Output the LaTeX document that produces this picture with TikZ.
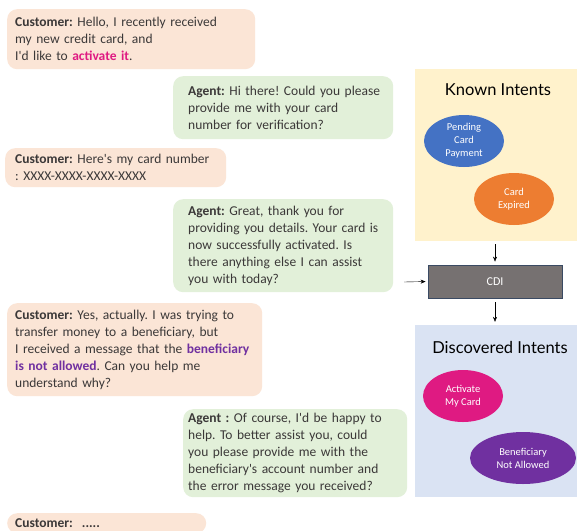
\documentclass[tikz,border=0pt]{standalone}
\usepackage{fontspec}
\setmainfont{Carlito}[Ligatures=TeXOff]
\newfontfamily\titlefont{Lato}
\usetikzlibrary{shapes.geometric,arrows.meta}
\frenchspacing

\definecolor{custfill}{HTML}{FBE5D6}
\definecolor{agentfill}{HTML}{E2F0D9}
\definecolor{knownfill}{HTML}{FFF2CC}
\definecolor{discfill}{HTML}{DAE3F3}
\definecolor{textgray}{HTML}{3B3838}
\definecolor{pendblue}{HTML}{4472C4}
\definecolor{expiredorange}{HTML}{ED7D31}
\definecolor{activpink}{HTML}{DF1A82}
\definecolor{benpurple}{HTML}{7030A0}
\definecolor{cdigray}{HTML}{767171}
\definecolor{cdiborder}{HTML}{3A4A63}

\tikzset{
  bubble/.style={rounded corners=10pt,anchor=north west,align=left,inner xsep=4pt,
    inner ysep=2pt,text=textgray,font=\frenchspacing\fontsize{13.5}{17}\selectfont},
  custbubble/.style={bubble,fill=custfill},
  agentbubble/.style={bubble,fill=agentfill},
  intent/.style={ellipse,minimum width=80pt,minimum height=52pt,inner sep=0pt,
    text=white,align=center,font=\fontsize{10.5}{13}\selectfont},
  panel/.style={rectangle,minimum width=162pt,minimum height=172pt,inner sep=0pt},
  paneltitle/.style={font=\titlefont\fontsize{16.5}{19}\selectfont,text=black},
  flow/.style={-{Stealth[length=5pt,width=4pt]},black}
}

\begin{document}
\begin{tikzpicture}[x=1pt,y=-1pt]
  \clip (0,0) rectangle (577,530);
  \fill[white] (0,0) rectangle (577,530);

  % Chat between customer and agent
  \node[custbubble,text width=240pt,minimum height=60pt,execute at begin node={\leftskip=4pt}] (c1) at (7,9)
    {\textbf{Customer:} Hello, I recently received\\ my new credit card, and\\ I'd like to \textcolor{activpink}{\textbf{activate it}}.};
  \node[agentbubble,text width=212pt,minimum height=63pt,execute at begin node={\leftskip=11pt}] (a1) at (173,76)
    {\textbf{Agent:} Hi there! Could you please\\ provide me with your card\\ number for verification?};
  \node[custbubble,text width=213pt,minimum height=39pt,execute at begin node={\leftskip=6pt}] (c2) at (5,148)
    {\textbf{Customer:} Here's my card number\\ : XXXX-XXXX-XXXX-XXXX};
  \node[agentbubble,text width=212pt,minimum height=93pt,execute at begin node={\leftskip=11pt}] (a2) at (173,199)
    {\textbf{Agent:} Great, thank you for\\ providing you details. Your card is\\ now successfully activated. Is\\ there anything else I can assist\\ you with today?};
  \node[custbubble,text width=247pt,minimum height=93pt,execute at begin node={\leftskip=4pt}] (c3) at (7,303)
    {\textbf{Customer:} Yes, actually. I was trying to\\ transfer money to a beneficiary, but\\ I received a message that the \textcolor{benpurple}{\textbf{beneficiary}}\\ \textcolor{benpurple}{\textbf{is not allowed}}. Can you help me\\ understand why?};
  \node[agentbubble,text width=216pt,minimum height=88pt,execute at begin node={\leftskip=1pt}] (a3) at (183,409)
    {\textbf{Agent :} Of course, I'd be happy to\\ help. To better assist you, could\\ you please provide me with the\\ beneficiary's account number and\\ the error message you received?};
  \node[custbubble,text width=191pt,minimum height=20pt,execute at begin node={\leftskip=4pt}] (c4) at (7,513)
    {\textbf{Customer:\ \ .....}};

  % Known intents
  \node[panel,fill=knownfill] (known) at (496,155) {};
  \node[paneltitle] (knowntitle) at (498,90) {Known Intents};
  \node[intent,fill=pendblue] (pending) at (464,141) {Pending\\Card\\Payment};
  \node[intent,fill=expiredorange] (expired) at (514,199) {Card\\Expired};

  % CDI
  \node[rectangle,fill=cdigray,draw=cdiborder,line width=0.8pt,minimum width=134pt,minimum height=33pt,
    text=white,font=\fontsize{12}{14}\selectfont] (cdi) at (495,281.5) {CDI};
  \coordinate (chatin) at (404,282);

  % Discovered intents
  \node[panel,fill=discfill] (disc) at (496,411) {};
  \node[paneltitle] (disctitle) at (500,347) {Discovered Intents};
  \node[intent,fill=activpink] (activate) at (463,396) {Activate\\My Card};
  \node[intent,fill=benpurple,minimum width=106pt] (benef) at (523,458) {Beneficiary\\Not Allowed};

  \draw[flow,shorten <=3pt,shorten >=3pt] (known.south -| cdi.north) -- (cdi.north);
  \draw[flow,shorten >=2pt] (chatin) -- (cdi.west);
  \draw[flow,shorten <=4pt,shorten >=3pt] (cdi.south) -- (cdi.south |- disc.north);
\end{tikzpicture}
\end{document}
